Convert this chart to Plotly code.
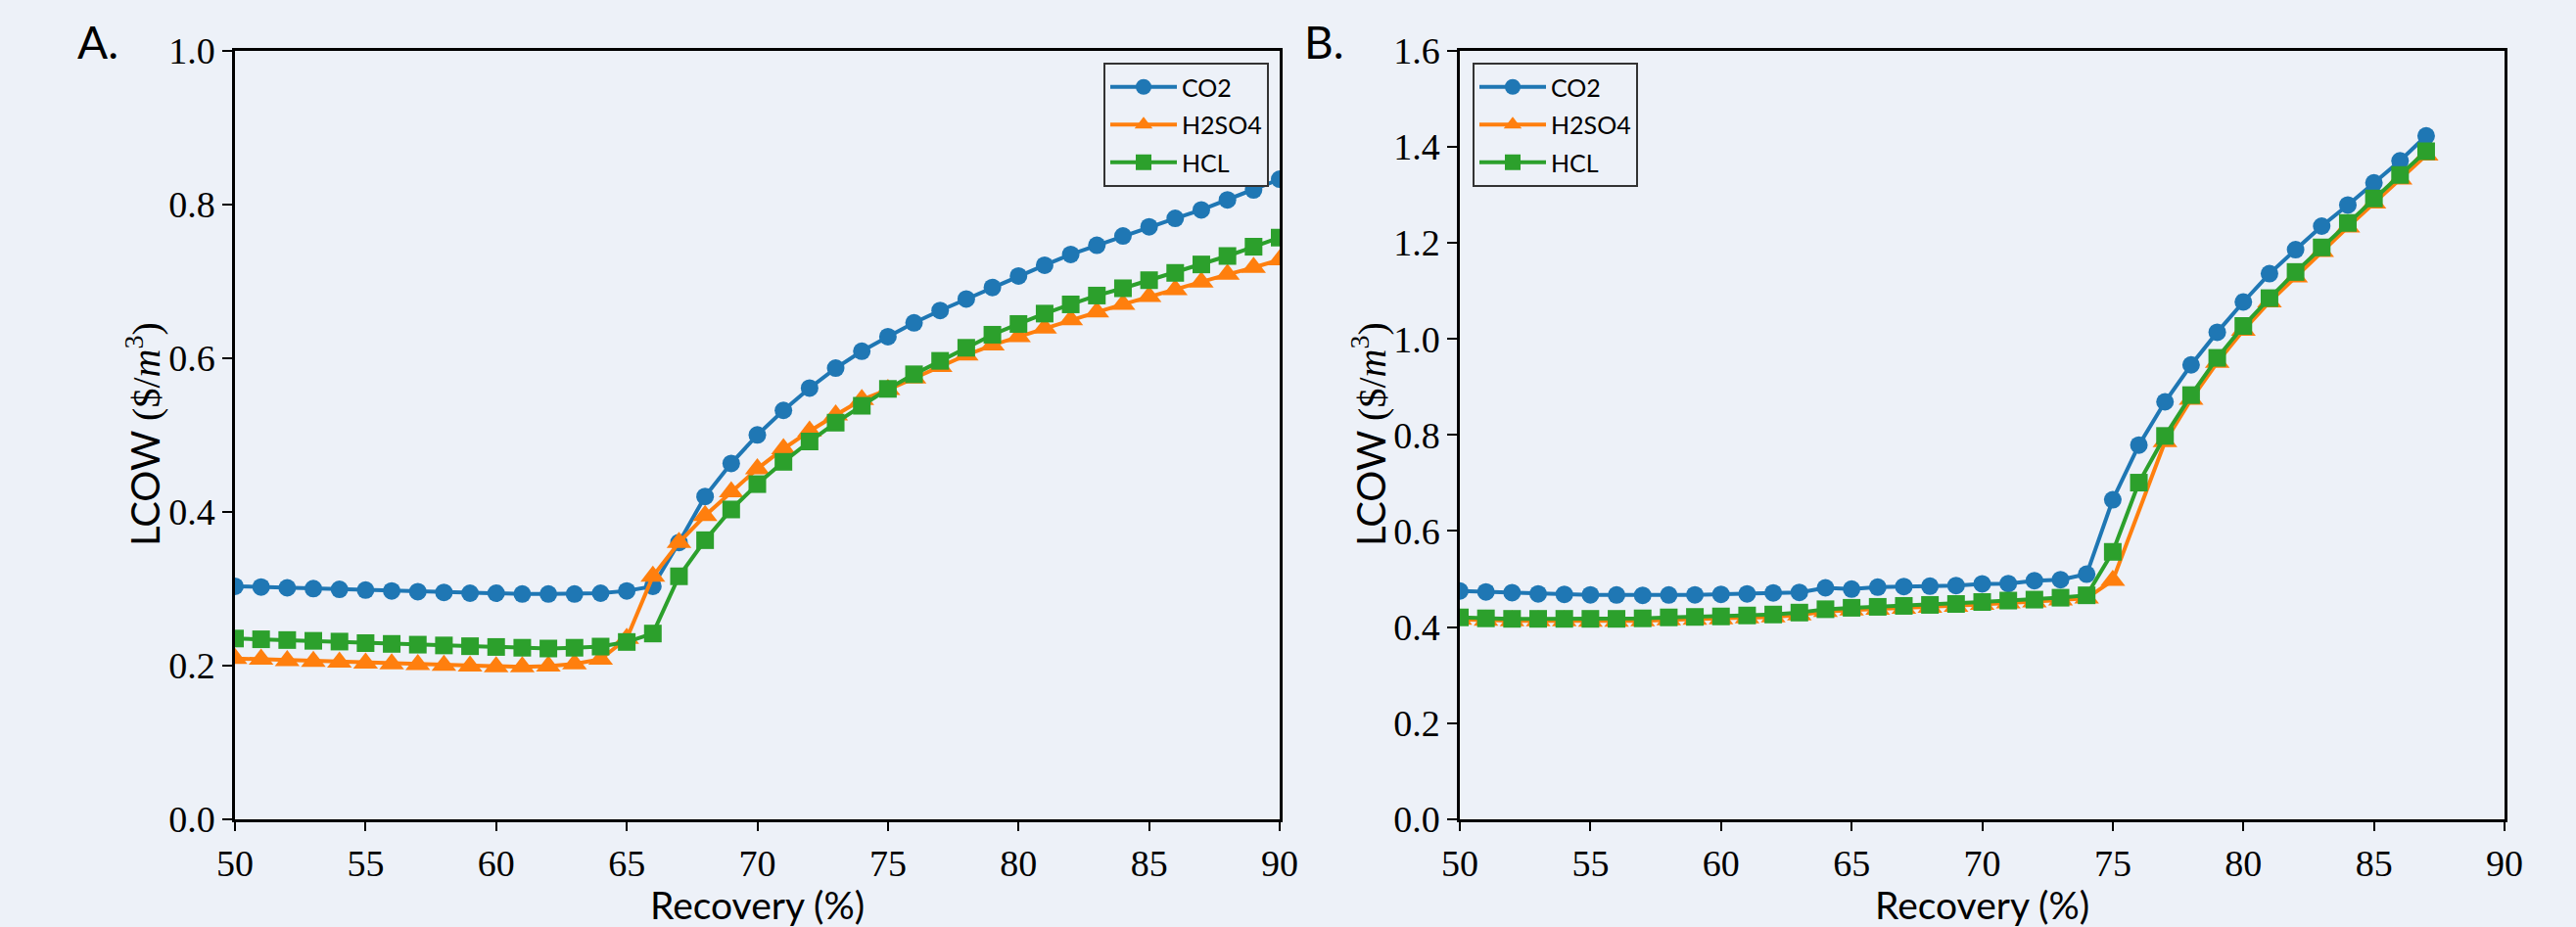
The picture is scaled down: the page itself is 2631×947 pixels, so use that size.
import plotly.graph_objects as go

# ---------------- data ----------------
recovery_a = list(range(50, 91))
co2_a = [0.303, 0.302, 0.301, 0.300, 0.299, 0.298, 0.297, 0.296, 0.295, 0.294,
         0.294, 0.293, 0.293, 0.293, 0.294, 0.297, 0.303, 0.360, 0.420, 0.463,
         0.500, 0.532, 0.561, 0.587, 0.609, 0.628, 0.646, 0.662, 0.677, 0.692,
         0.707, 0.721, 0.735, 0.747, 0.759, 0.771, 0.782, 0.793, 0.806, 0.819, 0.833]
h2so4_a = [0.209, 0.208, 0.206, 0.205, 0.204, 0.203, 0.202, 0.201, 0.200, 0.199,
           0.198, 0.198, 0.199, 0.202, 0.208, 0.235, 0.316, 0.360, 0.395, 0.426,
           0.456, 0.482, 0.505, 0.526, 0.546, 0.559, 0.574, 0.589, 0.604, 0.617,
           0.628, 0.639, 0.650, 0.660, 0.670, 0.680, 0.689, 0.699, 0.709, 0.718, 0.728]
hcl_a = [0.235, 0.234, 0.233, 0.232, 0.231, 0.229, 0.228, 0.227, 0.226, 0.225,
         0.224, 0.223, 0.222, 0.223, 0.2245, 0.2305, 0.2415, 0.316, 0.363, 0.403,
         0.436, 0.465, 0.4915, 0.516, 0.538, 0.560, 0.579, 0.5965, 0.6135, 0.6305,
         0.6445, 0.658, 0.670, 0.6815, 0.691, 0.7015, 0.711, 0.722, 0.733, 0.745, 0.757]

recovery_b = list(range(50, 88))
co2_b = [0.475, 0.473, 0.4715, 0.469, 0.468, 0.467, 0.4667, 0.466, 0.4667, 0.467,
         0.468, 0.469, 0.471, 0.472, 0.4816, 0.479, 0.483, 0.4843, 0.485, 0.4864,
         0.4898, 0.4905, 0.4966, 0.4986, 0.510, 0.665, 0.779, 0.869, 0.946, 1.014,
         1.077, 1.136, 1.186, 1.235, 1.279, 1.325, 1.371, 1.423]
hcl_b = [0.420, 0.418, 0.417, 0.417, 0.417, 0.417, 0.417, 0.418, 0.420, 0.421,
         0.422, 0.424, 0.426, 0.430, 0.437, 0.440, 0.442, 0.444, 0.446, 0.448,
         0.452, 0.455, 0.457, 0.461, 0.466, 0.5565, 0.7007, 0.798, 0.883, 0.9606,
         1.027, 1.085, 1.1395, 1.1905, 1.2415, 1.2925, 1.3415, 1.391]
recovery_b_h2so4 = list(range(50, 76)) + list(range(77, 88))
h2so4_b = [0.416, 0.414, 0.413, 0.413, 0.413, 0.412, 0.412, 0.413, 0.415, 0.416,
           0.417, 0.419, 0.421, 0.425, 0.432, 0.435, 0.437, 0.439, 0.441, 0.443,
           0.447, 0.450, 0.452, 0.456, 0.460, 0.497,
           0.786, 0.874, 0.951, 1.018, 1.077, 1.129, 1.182, 1.233, 1.283, 1.333, 1.383]

series_names = ["CO2", "H2SO4", "HCL"]
colors = ["#1f77b4", "#ff7f0e", "#2ca02c"]
symbols = ["circle", "triangle-up", "square"]
x_ticks = [50, 55, 60, 65, 70, 75, 80, 85, 90]
y_ticks_a = [0.0, 0.2, 0.4, 0.6, 0.8, 1.0]
y_ticks_b = [0.0, 0.2, 0.4, 0.6, 0.8, 1.0, 1.2, 1.4, 1.6]

# ---------------- figure ----------------
W, H = 2631, 947
BG = "#EDF1F8"
SERIF = "Liberation Serif"
SANS = "Lato"

fig = go.Figure()

panel_a = [(recovery_a, co2_a), (recovery_a, h2so4_a), (recovery_a, hcl_a)]
panel_b = [(recovery_b, co2_b), (recovery_b_h2so4, h2so4_b), (recovery_b, hcl_b)]

msizes = [18, 22, 18]
for i, (xs, ys) in enumerate(panel_a):
    fig.add_trace(go.Scatter(
        x=xs, y=ys, mode="lines+markers", name=series_names[i],
        line=dict(color=colors[i], width=4),
        marker=dict(symbol=symbols[i], size=msizes[i], color=colors[i]),
        xaxis="x", yaxis="y", legend="legend", legendgroup="a" + str(i)))
for i, (xs, ys) in enumerate(panel_b):
    fig.add_trace(go.Scatter(
        x=xs, y=ys, mode="lines+markers", name=series_names[i],
        line=dict(color=colors[i], width=4),
        marker=dict(symbol=symbols[i], size=msizes[i], color=colors[i]),
        xaxis="x2", yaxis="y2", legend="legend2", legendgroup="b" + str(i)))

ydom = [1 - 836.7 / H, 1 - 52 / H]
axis_common = dict(showline=True, mirror=True, linecolor="black", linewidth=2.5,
                   ticks="outside", ticklen=10, tickwidth=2, tickcolor="black",
                   showgrid=False, zeroline=False, automargin=False,
                   tickfont=dict(family=SERIF, size=38, color="black"))

legend_common = dict(bgcolor=BG, bordercolor="#333333", borderwidth=2,
                     font=dict(family=SANS, size=25, color="black"),
                     itemwidth=68, tracegroupgap=3, yanchor="top")

fig.update_layout(
    width=W, height=H,
    margin=dict(l=0, r=0, t=0, b=0, pad=0, autoexpand=False),
    paper_bgcolor=BG, plot_bgcolor=BG,
    xaxis=dict(domain=[240 / W, 1307 / W], range=[50, 90], tickvals=x_ticks,
               anchor="y", **axis_common),
    yaxis=dict(domain=ydom, range=[0, 1.0], tickvals=y_ticks_a, tickformat=".1f",
               anchor="x", **axis_common),
    xaxis2=dict(domain=[1491 / W, 2558 / W], range=[50, 90], tickvals=x_ticks,
                anchor="y2", **axis_common),
    yaxis2=dict(domain=ydom, range=[0, 1.6], tickvals=y_ticks_b, tickformat=".1f",
                anchor="x2", **axis_common),
    legend=dict(x=1296 / W, y=1 - 64 / H, xanchor="right", **legend_common),
    legend2=dict(x=1504 / W, y=1 - 64 / H, xanchor="left", **legend_common),
    showlegend=True,
)

ytitle = ("LCOW <span style='font-family:Liberation Serif'>($/<i>m</i>"
          "<sup>3</sup>)</span>")
annotations = [
    dict(text="A.", x=100 / W, y=1 - 43 / H, font=dict(family=SANS, size=46)),
    dict(text="B.", x=1352 / W, y=1 - 43 / H, font=dict(family=SANS, size=46)),
    dict(text=ytitle, x=146 / W, y=1 - 444 / H, textangle=-90,
         font=dict(family=SANS, size=40)),
    dict(text=ytitle, x=1398 / W, y=1 - 444 / H, textangle=-90,
         font=dict(family=SANS, size=40)),
    dict(text="Recovery (%)", x=773.5 / W, y=1 - 924 / H,
         font=dict(family=SANS, size=39)),
    dict(text="Recovery (%)", x=2024.5 / W, y=1 - 924 / H,
         font=dict(family=SANS, size=39)),
]
for a in annotations:
    a.update(xref="paper", yref="paper", showarrow=False,
             xanchor="center", yanchor="middle")
    a["font"]["color"] = "black"
fig.update_layout(annotations=annotations)

fig.write_html("out.html",
               config={"displayModeBar": False},
               post_script="document.body.style.margin='0px';"
                           "document.body.style.padding='0px';"
                           "document.body.style.background='" + BG + "';")
